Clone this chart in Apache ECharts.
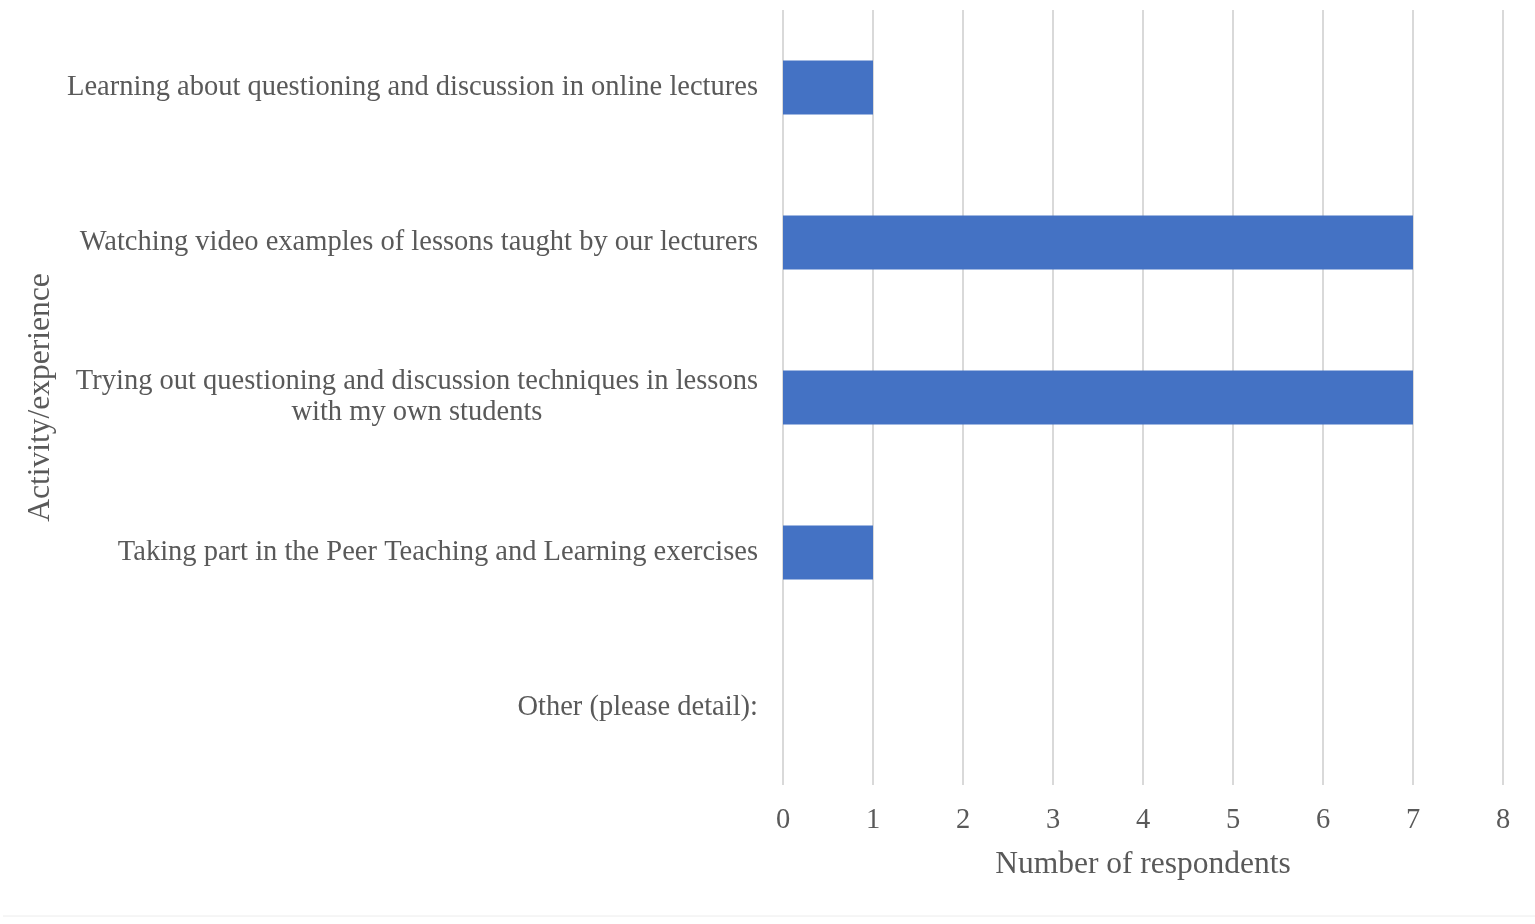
<!DOCTYPE html>
<html>
<head>
<meta charset="utf-8">
<script src="https://cdn.jsdelivr.net/npm/echarts@6/dist/echarts.min.js"></script>
<style>
	html, body { margin: 0; padding: 0; background: #fff; }
	#main { width: 1535px; height: 924px; }
</style>
</head>
<body>
<div id="main"></div>
<script>
// categories, top to bottom
var categories = [
	'Learning about questioning and discussion in online lectures',
	'Watching video examples of lessons taught by our lecturers',
	'Trying out questioning and discussion techniques in lessons\nwith my own students',
	'Taking part in the Peer Teaching and Learning exercises',
	'Other (please detail):'
];
var respondents = [1, 7, 7, 1, 0];
var xTicks = [0, 1, 2, 3, 4, 5, 6, 7, 8];

var font = 'Liberation Serif, Times New Roman, serif';
var textColor = '#595959';

var chart = echarts.init(document.getElementById('main'));
chart.setOption({
	animation: false,
	grid: { left: 783, right: 32, top: 10, bottom: 139, containLabel: false },
	xAxis: {
		type: 'value',
		min: xTicks[0],
		max: xTicks[xTicks.length - 1],
		interval: 1,
		name: 'Number of respondents',
		nameLocation: 'middle',
		nameGap: 64,
		nameTextStyle: { fontFamily: font, fontSize: 31.5, color: textColor },
		axisLine: { show: false },
		axisTick: { show: false },
		axisLabel: { fontFamily: font, fontSize: 28.5, color: textColor, margin: 21 },
		splitLine: { show: true, lineStyle: { color: '#d9d9d9', width: 2 } }
	},
	yAxis: {
		type: 'category',
		inverse: true,
		data: categories,
		name: 'Activity/experience',
		nameLocation: 'middle',
		nameGap: 726,
		nameRotate: 90,
		nameTextStyle: { fontFamily: font, fontSize: 31.5, color: textColor },
		axisLine: { show: false },
		axisTick: { show: false },
		axisLabel: {
			margin: 25,
			align: 'right',
			// each line centred inside the label block, block right-aligned
			formatter: function (v) {
				return v.split('\n').map(function (s) { return '{c|' + s + '}'; }).join('\n');
			},
			rich: {
				c: { fontFamily: font, fontSize: 28.5, color: textColor, lineHeight: 31, align: 'center' }
			}
		},
		splitLine: { show: false }
	},
	series: [{
		type: 'bar',
		data: respondents,
		barWidth: 54,
		itemStyle: { color: '#4472C4' }
	}],
	graphic: [{
		type: 'line',
		shape: { x1: 3, y1: 916, x2: 1535, y2: 916 },
		style: { stroke: '#ececec', lineWidth: 1 }
	}]
});
</script>
</body>
</html>
